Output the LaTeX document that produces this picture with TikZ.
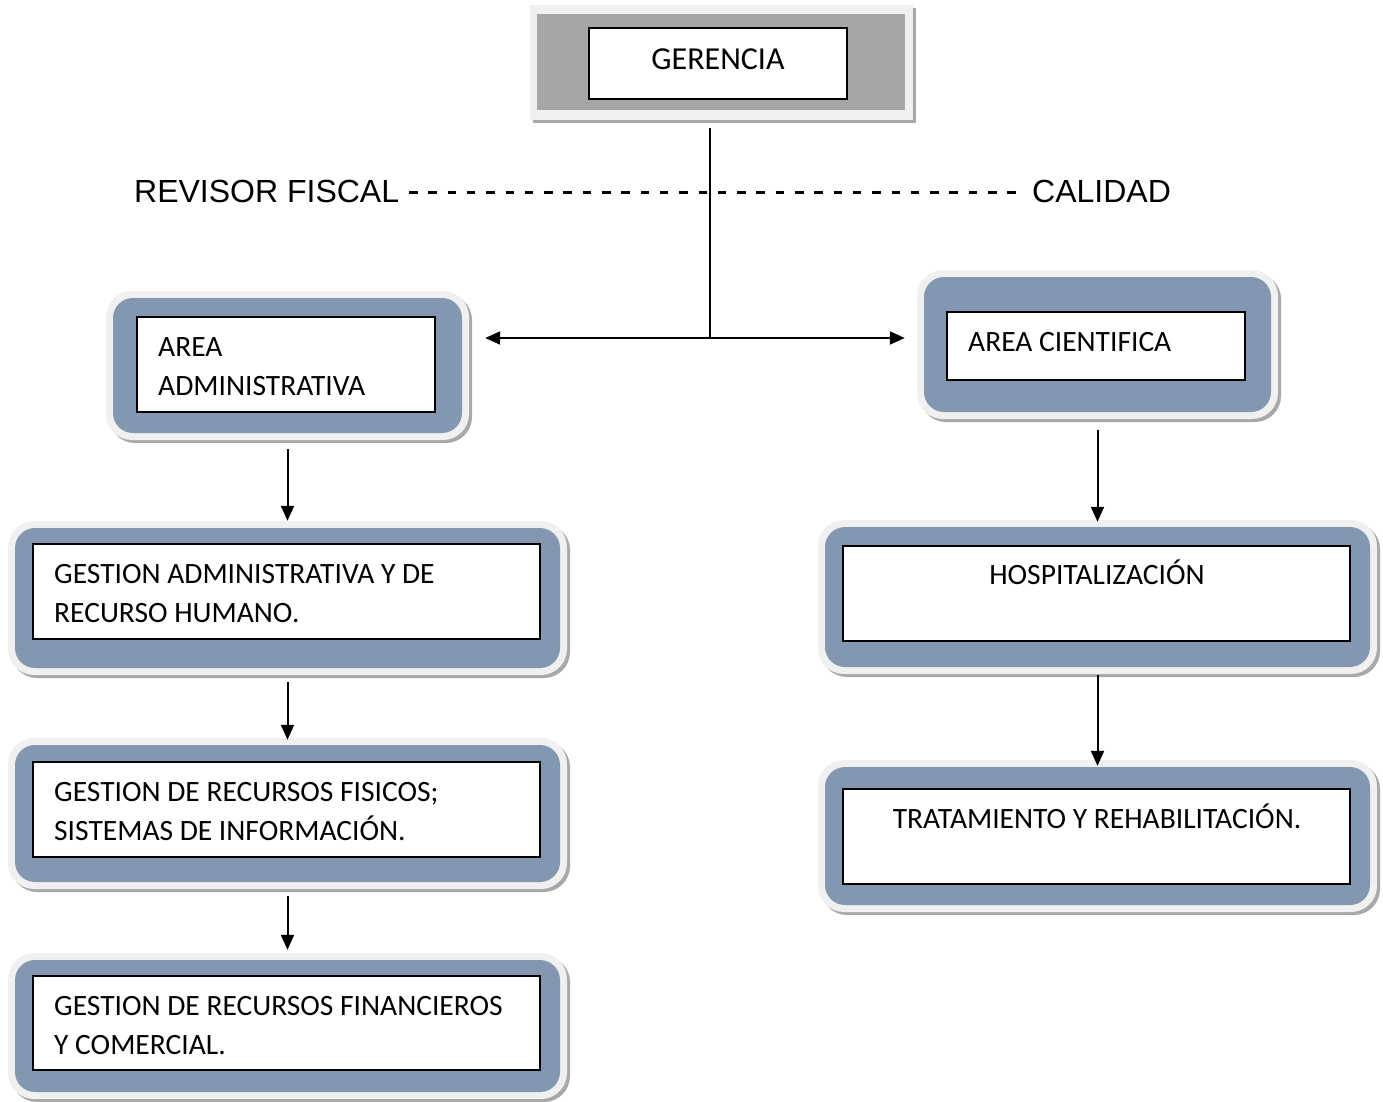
\documentclass[tikz,border=0pt]{standalone}
\usepackage{fontspec}
\setmainfont{Carlito}
\newfontfamily\arialf{Liberation Sans}
\usetikzlibrary{arrows.meta}
\definecolor{bluec}{HTML}{8497B0}
\definecolor{framec}{HTML}{F0F0F0}
\definecolor{shadc}{HTML}{A8A8A8}
\definecolor{gerc}{HTML}{A6A6A6}
\newcommand\twoln[2]{\vtop{\baselineskip=39pt\hbox{#1}\hbox{#2}}}
\newcommand\orgbox[5]{%
  \node[shadowbox, minimum width=#4+14, minimum height=#5+14] (#1-sh) at (#2+3,#3+3) {};
  \node[framebox, minimum width=#4+14, minimum height=#5+14] (#1-fr) at (#2,#3) {};
  \node[bluebox, minimum width=#4, minimum height=#5] (#1) at (#2,#3) {};
}
\begin{document}
\begin{tikzpicture}[x=1pt,y=-1pt,
  bluebox/.style={fill=bluec, rounded corners=20pt, inner sep=0pt, draw=none},
  framebox/.style={fill=framec, rounded corners=26pt, inner sep=0pt, draw=none},
  shadowbox/.style={fill=shadc, rounded corners=26pt, inner sep=0pt, draw=none},
  whitebox/.style={draw=black, line width=2pt, fill=white, inner sep=0pt},
  lbl/.style={inner sep=0pt, font=\fontsize{29.5}{39}\selectfont},
  biglbl/.style={inner sep=0pt, font=\arialf\fontsize{32}{40}\selectfont},
  conn/.style={line width=2pt},
  arr/.style={conn, -{Triangle[length=15pt,width=13pt]}}]

\useasboundingbox (0,0) rectangle (1383,1101);
\clip (0,0) rectangle (1383,1101);

% GERENCIA
\node[fill=shadc, inner sep=0pt, minimum width=383, minimum height=115] (ger-sh) at (724.5,65.5) {};
\node[fill=framec, inner sep=0pt, minimum width=383, minimum height=115] (ger-fr) at (721.5,62.5) {};
\node[fill=gerc, inner sep=0pt, minimum width=368, minimum height=96] (ger-gray) at (721,62) {};
\node[whitebox, minimum width=258, minimum height=71] (ger) at (718,63.5) {};
\node[inner sep=0pt, font=\fontsize{32}{39}\selectfont, anchor=base] (ger-t) at (718,69.5) {GERENCIA};

% side labels
\node[biglbl, anchor=base west] (rev) at (134,202) {REVISOR FISCAL};
\node[biglbl, anchor=base west] (cal) at (1032,202) {CALIDAD};
\coordinate (d1) at (409,192.5);
\coordinate (d2) at (1022,192.5);
\draw[line width=2.6pt, dash pattern=on 8.5pt off 10.8pt] (d1) -- (d2);

% boxes
\orgbox{adm}{287.5}{365.5}{349}{135}
\node[whitebox, minimum width=298, minimum height=95] (adm-w) at (286,364.5) {};
\node[lbl, anchor=base west] (adm-t) at (158,356) {\twoln{AREA}{ADMINISTRATIVA}};

\orgbox{cien}{1097.5}{344.5}{347}{135}
\node[whitebox, minimum width=298, minimum height=68] (cien-w) at (1096,346) {};
\node[lbl, anchor=base west] (cien-t) at (968,351) {AREA CIENTIFICA};

\orgbox{g1}{287.5}{598}{545}{140}
\node[whitebox, minimum width=507, minimum height=95] (g1-w) at (286.5,591.5) {};
\node[lbl, anchor=base west] (g1-t) at (54,583) {\twoln{GESTION ADMINISTRATIVA Y DE}{RECURSO HUMANO.}};

\orgbox{g2}{287.5}{813.5}{545}{137}
\node[whitebox, minimum width=507, minimum height=95] (g2-w) at (286.5,809.5) {};
\node[lbl, anchor=base west] (g2-t) at (54,801) {\twoln{GESTION DE RECURSOS FISICOS;}{SISTEMAS DE INFORMACIÓN.}};

\orgbox{g3}{287.5}{1026}{545}{132}
\node[whitebox, minimum width=507, minimum height=94] (g3-w) at (286.5,1023) {};
\node[lbl, anchor=base west] (g3-t) at (54,1015) {\twoln{GESTION DE RECURSOS FINANCIEROS}{Y COMERCIAL.}};

\orgbox{hosp}{1097.5}{597}{545}{140}
\node[whitebox, minimum width=507, minimum height=95] (hosp-w) at (1096.5,593) {};
\node[lbl, anchor=base] (hosp-t) at (1097,584) {HOSPITALIZACIÓN};

\orgbox{trat}{1097.5}{836}{545}{138}
\node[whitebox, minimum width=507, minimum height=95] (trat-w) at (1096.5,836) {};
\node[lbl, anchor=base] (trat-t) at (1097,828) {TRATAMIENTO Y REHABILITACIÓN.};

% connectors
\coordinate (gtop) at (710,128);
\coordinate (junc) at (710,338);
\draw[conn] (gtop) -- (junc);
\draw[arr, shorten >=16pt] (junc) -- (adm-fr.east |- junc);
\draw[arr, shorten >=12pt] (junc) -- (cien-fr.west |- junc);
\draw[arr, shorten <=9pt] (adm-fr.south) -- (g1-fr.north);
\draw[arr, shorten <=7pt, shorten >=-2pt] (g1-fr.south) -- (g2-fr.north);
\draw[arr, shorten <=7pt, shorten >=3pt] (g2-fr.south) -- (g3-fr.north);
\draw[arr, shorten <=11pt, shorten >=-2pt] (cien-fr.south) -- (hosp-fr.north);
\draw[arr, shorten <=1pt, shorten >=-6pt] (hosp-fr.south) -- (trat-fr.north);
\end{tikzpicture}
\end{document}
